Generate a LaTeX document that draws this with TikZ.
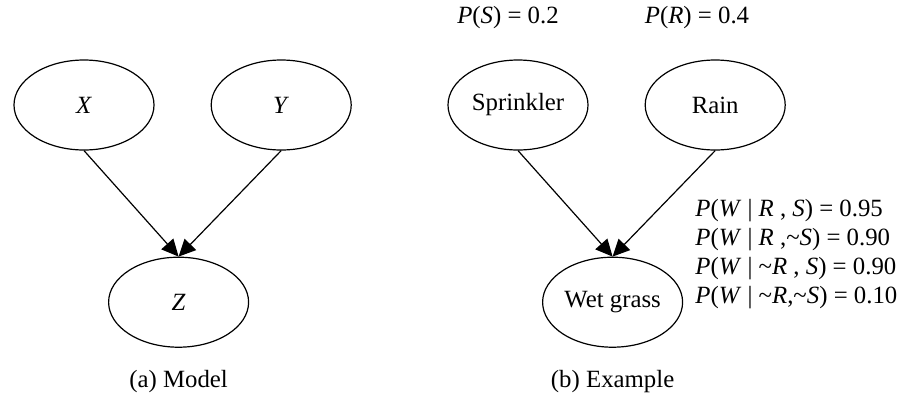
\documentclass[tikz,border=0pt]{standalone}
\usepackage{fontspec}
\setmainfont{Liberation Serif}
\usepackage{tikz}
\usetikzlibrary{positioning,arrows.meta,shapes.geometric,calc}
\newcommand{\var}[1]{\textit{#1}}
\newcommand{\nt}{\textasciitilde}

\begin{document}
\begin{tikzpicture}[
  x=0.5pt, y=-0.5pt,
  node distance=28pt and 28pt,
  every node/.style={font=\fontsize{12.4}{14.5}\selectfont},
  var/.style={draw, ellipse, line width=0.6pt, minimum width=70pt,
              minimum height=45pt, inner sep=0pt},
  arr/.style={-{Triangle[length=8.5pt, width=8pt]}, line width=0.6pt},
  prob/.style={inner sep=0pt}
]
\useasboundingbox (0,0) rectangle (908,402);
% (a) model
\node[var] (x) at (84,105) {\var{X}};
\node[var, right=of x] (y) {\var{Y}};
\node[var, below=53pt of $(x.south)!0.5!(y.south)$, anchor=north, xshift=-2pt] (z) {\var{Z}};
\node (capa) at (z.south |- 0,382) {(a) Model};
% (b) example
\node[var] (spr) at (518,105) {Sprinkler};
\node[var, right=of spr] (rain) {Rain};
\node[var, below=53pt of $(spr.south)!0.5!(rain.south)$, anchor=north, xshift=-2pt] (wet) {Wet grass};
\node (capb) at (wet.south |- 0,382) {(b) Example};
% priors and table
\node[prob] (ps) at (508,18) {\var{P}(\var{S}) = 0.2};
\node[prob] (pr) at (697,18) {\var{P}(\var{R}) = 0.4};
\node[prob, anchor=west, align=left] (cpt) at (695,254)
  {\var{P}(\var{W} | \var{R} , \var{S}) = 0.95\\
   \var{P}(\var{W} | \var{R} ,\nt\var{S}) = 0.90\\
   \var{P}(\var{W} | \nt\var{R} , \var{S}) = 0.90\\
   \var{P}(\var{W} | \nt\var{R},\nt\var{S}) = 0.10};

% edges
\draw[arr] (x.south) -- (z.north);
\draw[arr] (y.south) -- (z.north);
\draw[arr] (spr.south) -- (wet.north);
\draw[arr] (rain.south) -- (wet.north);
\end{tikzpicture}
\end{document}
